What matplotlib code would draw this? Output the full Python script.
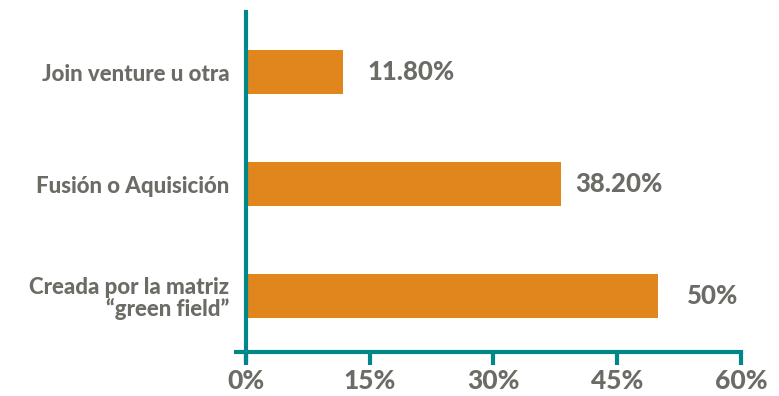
import matplotlib.pyplot as plt
from matplotlib.ticker import PercentFormatter
import matplotlib.transforms as mtransforms

categories = ["Creada por la matriz\n\u201cgreen field\u201d", "Fusión o Aquisición", "Join venture u otra"]
values = [50.0, 38.2, 11.8]
value_labels = ["50%", "38.20%", "11.80%"]
label_offsets = [28, 14, 24]  # px gap after each bar end

teal = "#00878a"
orange = "#e0861c"
grey = "#6c6c66"

plt.rcParams['font.family'] = ['Lato', 'DejaVu Sans']

fig = plt.figure(figsize=(7.79, 3.96), dpi=100)
ax = fig.add_axes([0.3158, 0.111, 0.6354, 0.859])

pos = range(len(categories))
ax.barh(pos, values, height=0.39, color=orange)

for i, (v, lab, off) in enumerate(zip(values, value_labels, label_offsets)):
    tr = ax.transData + mtransforms.ScaledTranslation(off / 100, 0, fig.dpi_scale_trans)
    ax.text(v, i, lab, transform=tr, ha='left', va='center',
            fontsize=18.5, fontweight='black', color=grey)

ax.set_xlim(0, 60)
ax.set_ylim(-0.5, 2.54)
ax.set_xticks([0, 15, 30, 45, 60])
ax.xaxis.set_major_formatter(PercentFormatter(decimals=0))
ax.set_yticks(list(pos))
ax.set_yticklabels(categories, fontsize=16, fontweight='black', color=grey,
                   linespacing=1.0)
ax.tick_params(axis='y', length=0, pad=12)
ax.tick_params(axis='x', length=9, width=3, color=teal, direction='out',
               labelsize=19, labelcolor=grey, pad=3)
for t in ax.get_xticklabels():
    t.set_fontweight('black')

for s in ['top', 'right']:
    ax.spines[s].set_visible(False)
ax.spines['left'].set_color(teal)
ax.spines['left'].set_linewidth(3)
ax.spines['bottom'].set_color(teal)
ax.spines['bottom'].set_linewidth(3)
ax.spines['bottom'].set_bounds(-1.2, 60)
ax.spines['left'].set_bounds(-0.58, 2.54)

fig.savefig("out.png", dpi=100)
